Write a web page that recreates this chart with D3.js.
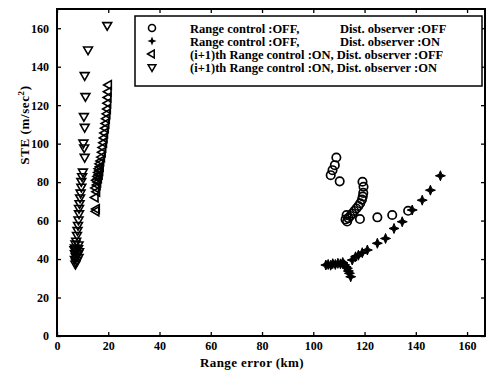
<!DOCTYPE html>
<html><head><meta charset="utf-8">
<script src="https://cdn.jsdelivr.net/npm/d3@7"></script>
<style>body{margin:0;background:#fff}svg{display:block}text{font-family:"Liberation Serif","Times New Roman",serif;font-weight:bold;fill:#000}</style>
</head><body><div id="chart"></div>
<script>
const xTicks = [0,20,40,60,80,100,120,140,160];
const yTicks = [0,20,40,60,80,100,120,140,160];
const xLabel = "Range error (km)";
const yLabel = "STE (m/sec";

const seriesNames = [
  "Range control :OFF,|Dist. observer :OFF",
  "Range control :OFF,|Dist. observer :ON",
  "(i+1)th Range control :ON, Dist. observer :OFF",
  "(i+1)th Range control :ON, Dist. observer :ON"
];

// Series 1: circles
const circX = [106.8,107.5,108.4,109.0,110.3,119.2,119.6,119.5,119.3,119.0,118.3,117.6,116.8,116.0,115.2,114.4,113.7,113.0,112.6,113.2,118.2,125.0,130.8,137.0];
const circY = [83.6,86.2,88.8,92.8,80.4,80.2,77.6,74.4,72.5,70.9,69.0,67.6,66.3,65.0,63.6,62.4,61.3,62.9,60.6,59.5,60.8,61.7,62.9,65.1];
// Series 2: stars
const starX = [104.9,105.8,106.8,107.6,108.6,109.6,110.6,111.5,112.2,112.8,113.3,113.7,114.1,114.6,115.2,116.5,117.6,119.1,121.1,125.0,128.2,131.5,134.7,138.6,142.5,145.7,149.6];
const starY = [36.9,37.2,36.8,37.6,37.2,37.8,37.5,38.2,37.0,36.0,35.2,33.8,32.6,30.8,39.5,41.2,42.0,43.3,44.7,48.2,50.7,55.9,59.4,65.5,70.6,75.8,83.3];
// Series 3: left triangles
const triLX = [15.3,15.5,15.0,15.6,15.2,15.8,16.0,15.5,16.3,16.0,16.6,16.3,16.8,16.5,17.0,16.8,17.2,17.5,17.8,18.0,18.3,18.5,18.7,19.0,19.2,19.4,19.6,19.8,19.9,20.0,20.1,20.2];
const triLY = [64.8,66.0,72.0,75.0,77.0,78.5,80.0,81.0,82.0,83.0,84.0,85.0,86.0,87.0,88.0,89.5,91.0,93.0,95.5,98.0,100.5,103.0,105.5,108.0,110.5,113.0,115.5,118.0,121.0,124.0,127.0,130.5];
// Series 4: down triangles
const triDX = [19.6,12.1,10.8,11.1,10.5,10.8,10.3,10.6,10.8,10.1,9.8,9.5,9.5,9.2,9.0,8.8,8.6,8.6,8.4,8.2,8.0,7.8,7.5,7.2,8.4,7.0,8.2,7.5,8.6,7.0,8.0,7.3,8.4,7.0,7.8,7.4,7.2,8.2,6.8];
const triDY = [161.6,148.9,135.6,124.7,114.3,108.7,100.5,98.0,93.1,85.4,83.0,80.5,77.6,74.5,72.0,69.0,66.5,63.7,60.5,57.7,55.0,52.5,49.5,48.0,47.5,46.0,45.5,44.5,44.0,43.0,42.5,41.5,41.0,40.0,39.5,38.5,37.5,43.0,45.0];

const W = 490, H = 371;
const m = {left:57, right:5, top:9, bottom:35};
const svg = d3.select("#chart").append("svg").attr("width",W).attr("height",H);
const x = d3.scaleLinear().domain([0,167]).range([m.left, W-m.right]);
const y = d3.scaleLinear().domain([0,170]).range([H-m.bottom, m.top]);

const star4 = {draw(ctx, size){
  const r = Math.sqrt(size)/1.2, r2 = r*0.4;
  for(let i=0;i<8;i++){
    const a = i*Math.PI/4 - Math.PI/2;
    const rr = i%2===0 ? r : r2;
    const px = rr*Math.cos(a), py = rr*Math.sin(a);
    if(i===0) ctx.moveTo(px,py); else ctx.lineTo(px,py);
  }
  ctx.closePath();
}};

const g = svg.append("g");
g.selectAll("circle.s1").data(circX.map((v,i)=>[v,circY[i]])).join("circle")
  .attr("cx",d=>x(d[0])).attr("cy",d=>y(d[1])).attr("r",4.2)
  .attr("fill","none").attr("stroke","#000").attr("stroke-width",1.7);
const starPath = d3.symbol().type(star4).size(36);
g.selectAll("path.s2").data(starX.map((v,i)=>[v,starY[i]])).join("path")
  .attr("d",starPath).attr("transform",d=>`translate(${x(d[0])},${y(d[1])})`)
  .attr("fill","#000").attr("stroke","#000").attr("stroke-width",1);
const tri = d3.symbol().type(d3.symbolTriangle).size(34);
g.selectAll("path.s3").data(triLX.map((v,i)=>[v,triLY[i]])).join("path")
  .attr("d",tri).attr("transform",d=>`translate(${x(d[0])},${y(d[1])}) rotate(-90)`)
  .attr("fill","none").attr("stroke","#000").attr("stroke-width",1.6);
g.selectAll("path.s4").data(triDX.map((v,i)=>[v,triDY[i]])).join("path")
  .attr("d",tri).attr("transform",d=>`translate(${x(d[0])},${y(d[1])}) rotate(180)`)
  .attr("fill","none").attr("stroke","#000").attr("stroke-width",1.6);

const x0 = x.range()[0], x1 = x.range()[1], y0 = y.range()[0], y1 = y.range()[1];
const tl = 4;
const fs = 12;
svg.append("g").attr("transform",`translate(0,${y0})`)
  .call(d3.axisBottom(x).tickValues(xTicks).tickSizeInner(-tl).tickSizeOuter(0).tickPadding(5))
  .call(s=>s.select(".domain").remove())
  .call(s=>s.selectAll("line").attr("stroke","#000").attr("stroke-width",1.3))
  .call(s=>s.selectAll("text").attr("font-size",fs).attr("font-family","Liberation Serif").attr("font-weight","bold"));
svg.append("g").attr("transform",`translate(0,${y1})`)
  .call(d3.axisTop(x).tickValues(xTicks).tickSizeInner(-tl).tickSizeOuter(0).tickFormat(""))
  .call(s=>s.select(".domain").remove())
  .call(s=>s.selectAll("line").attr("stroke","#000").attr("stroke-width",1.3));
svg.append("g").attr("transform",`translate(${x0},0)`)
  .call(d3.axisLeft(y).tickValues(yTicks).tickSizeInner(-tl).tickSizeOuter(0).tickPadding(8))
  .call(s=>s.select(".domain").remove())
  .call(s=>s.selectAll("line").attr("stroke","#000").attr("stroke-width",1.3))
  .call(s=>s.selectAll("text").attr("font-size",fs).attr("font-family","Liberation Serif").attr("font-weight","bold"));
svg.append("g").attr("transform",`translate(${x1},0)`)
  .call(d3.axisRight(y).tickValues(yTicks).tickSizeInner(-tl).tickSizeOuter(0).tickFormat(""))
  .call(s=>s.select(".domain").remove())
  .call(s=>s.selectAll("line").attr("stroke","#000").attr("stroke-width",1.3));
svg.append("rect").attr("x",x0).attr("y",y1).attr("width",x1-x0).attr("height",y0-y1)
  .attr("fill","none").attr("stroke","#000").attr("stroke-width",2);

svg.append("text").attr("x",252).attr("y",367).attr("text-anchor","middle").attr("font-size",13).attr("letter-spacing",0.4).text(xLabel);
const yt = svg.append("text").attr("transform","translate(29,125) rotate(-90)").attr("text-anchor","middle").attr("font-size",13).attr("letter-spacing",0.6);
yt.append("tspan").text(yLabel);
yt.append("tspan").attr("dy",-5).attr("font-size",9).text("2");
yt.append("tspan").attr("dy",5).text(")");

const lg = svg.append("g");
lg.append("rect").attr("x",135).attr("y",16).attr("width",347).attr("height",70)
  .attr("fill","#fff").attr("stroke","#000").attr("stroke-width",1.5);
const rowY = [29,42,55,68];
const symX = 152;
lg.append("circle").attr("cx",symX).attr("cy",rowY[0]-1).attr("r",3.5).attr("fill","none").attr("stroke","#000").attr("stroke-width",1.6);
lg.append("path").attr("d",d3.symbol().type(star4).size(30)).attr("transform",`translate(${symX},${rowY[1]-1})`).attr("fill","#000");
lg.append("path").attr("d",d3.symbol().type(d3.symbolTriangle).size(26)).attr("transform",`translate(${symX},${rowY[2]-1}) rotate(-90)`).attr("fill","none").attr("stroke","#000").attr("stroke-width",1.5);
lg.append("path").attr("d",d3.symbol().type(d3.symbolTriangle).size(26)).attr("transform",`translate(${symX},${rowY[3]-1}) rotate(180)`).attr("fill","none").attr("stroke","#000").attr("stroke-width",1.5);
seriesNames.forEach((n,i)=>{
  const parts = n.split("|");
  lg.append("text").attr("x",190).attr("y",rowY[i]+4).attr("font-size",12.5).text(parts[0]);
  if(parts[1]) lg.append("text").attr("x",340).attr("y",rowY[i]+4).attr("font-size",12.5).text(parts[1]);
});
</script></body></html>
